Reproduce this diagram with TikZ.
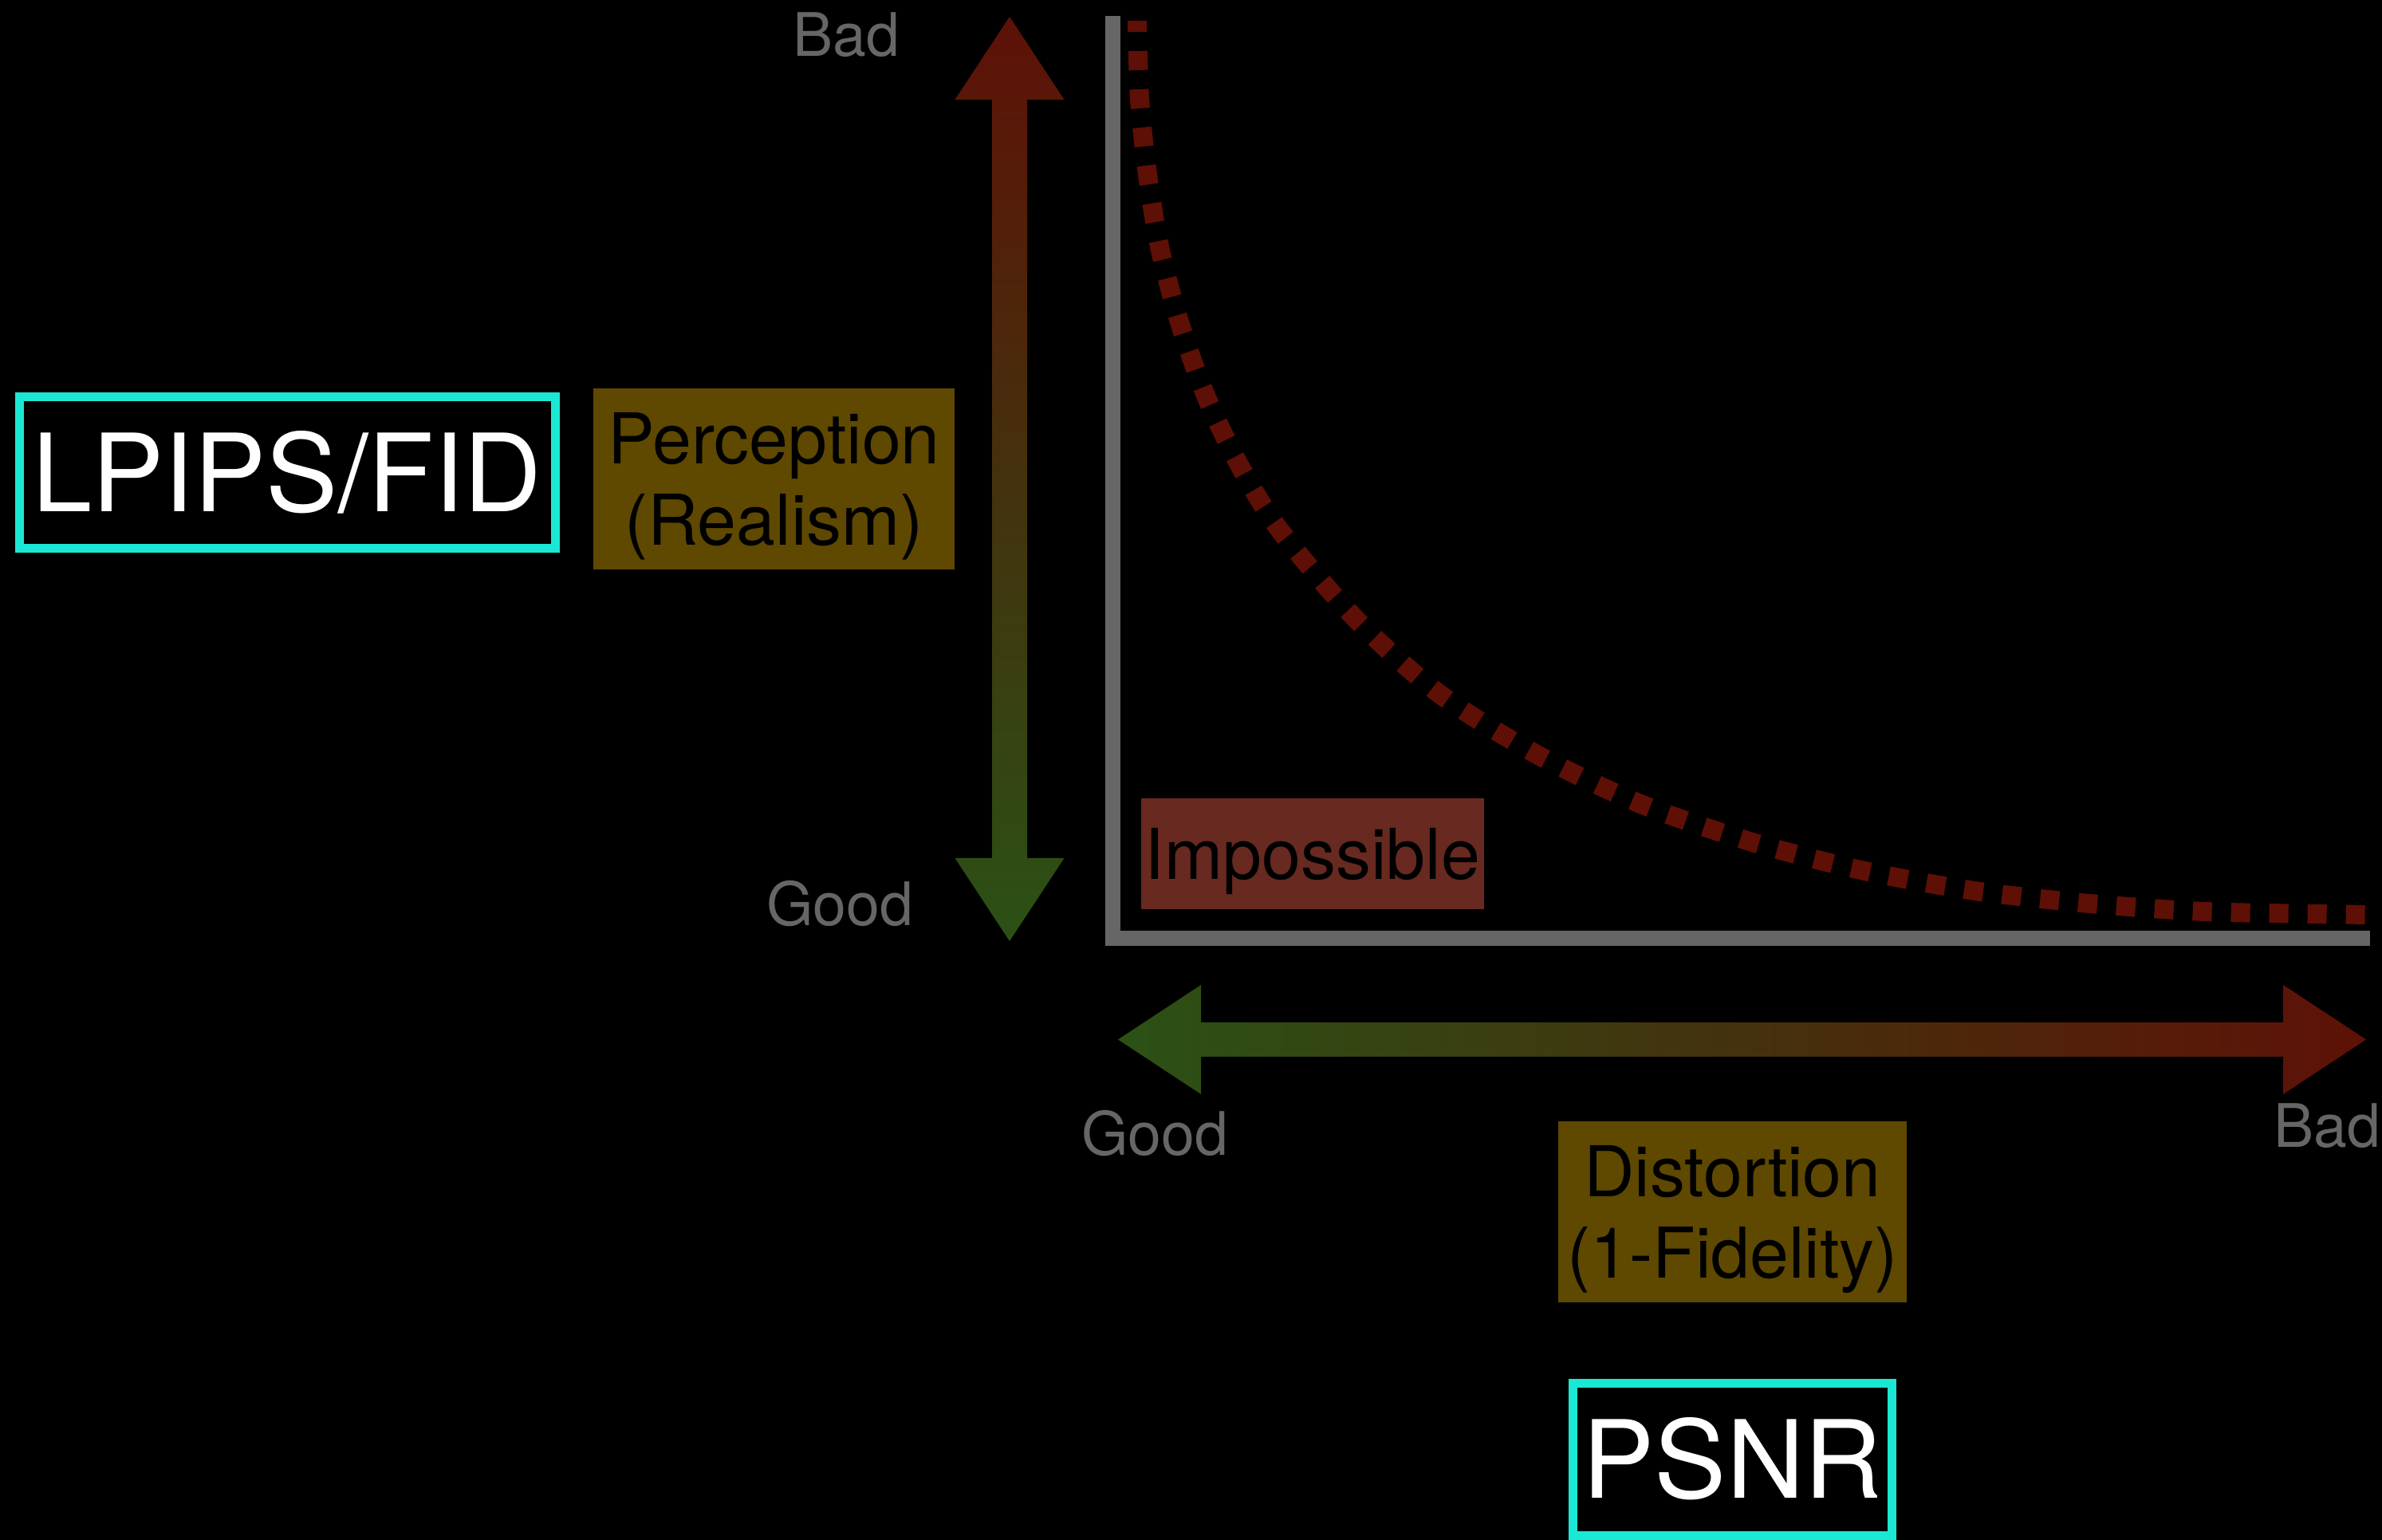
\documentclass[tikz,border=0pt]{standalone}
\usepackage{fontspec}
\setmainfont{TeX Gyre Heros}
\usetikzlibrary{calc}
\definecolor{AxGray}{HTML}{666666}
\definecolor{BadRed}{HTML}{5E1107}
\definecolor{GoodGreen}{HTML}{2B5115}
\definecolor{CurveRed}{HTML}{5E0F06}
\definecolor{TagGold}{HTML}{5F4800}
\definecolor{TagRust}{HTML}{672920}
\definecolor{MetricCyan}{HTML}{1AE8D4}

\begin{document}
\begin{tikzpicture}[
  lbl/.style={text=AxGray,font=\fontsize{21.4}{25}\selectfont,anchor=base,inner sep=0pt},
  tagbox/.style={fill=#1,text=black,font=\fontsize{25}{29}\selectfont,align=center,inner sep=0pt,
    text height=18pt,text depth=0pt},
  metricbox/.style={draw=MetricCyan,line width=.11cm,fill=black,text=white,font=\fontsize{38.5}{42}\selectfont,
    inner sep=0pt,text height=27.7pt,text depth=0pt}
]
  \useasboundingbox (0,0) rectangle (29.87,19.31);
  \fill[black] (0,0) rectangle (29.87,19.31);

  % axes
  \coordinate (ytop) at (13.955,19.11);
  \coordinate (origin) at (13.955,7.545);
  \coordinate (xend) at (29.72,7.545);
  \draw[AxGray,line width=.19cm] (ytop) -- (origin) -- (xend);

  % perception arrow, bad on top
  \coordinate (vtop) at (12.66,19.10);
  \coordinate (vbot) at (12.66,7.51);
  \fill[top color=BadRed,bottom color=GoodGreen] (vtop) -- ++(.685,-1.04) -- ++(-.465,0)
    -- ($(vbot)+(.22,1.04)$) -- ++(.465,0) -- (vbot) -- ++(-.685,1.04) -- ++(.465,0)
    -- ($(vtop)+(-.22,-1.04)$) -- ++(-.465,0) -- cycle;

  % distortion arrow, bad on the right
  \coordinate (hleft) at (14.02,6.275);
  \coordinate (hright) at (29.67,6.275);
  \fill[left color=GoodGreen,right color=BadRed] (hleft) -- ++(1.04,.685) -- ++(0,-.47)
    -- ($(hright)+(-1.04,.215)$) -- ++(0,.47) -- (hright) -- ++(-1.04,-.685) -- ++(0,.47)
    -- ($(hleft)+(1.04,-.215)$) -- ++(0,-.47) -- cycle;

  % frontier
  \draw[CurveRed,line width=.24cm,dash pattern=on .24cm off .24cm,dash phase=.1cm]
    plot[smooth,tension=.5] coordinates {(14.26,19.05) (14.29,18.07) (14.39,17.12)
    (14.55,16.17) (14.80,15.24) (15.12,14.35) (15.54,13.48) (16.05,12.66) (17.00,11.55)
    (18.05,10.61) (19.27,9.85) (20.57,9.23) (21.94,8.76) (23.33,8.40) (24.76,8.14)
    (26.20,7.98) (27.64,7.88) (29.07,7.85) (29.68,7.84)};

  \node[lbl] (badY) at (10.61,18.60) {Bad};
  \node[lbl] (goodY) at (10.53,7.70) {Good};
  \node[lbl] (goodX) at (14.48,4.82) {Good};
  \node[lbl] (badX) at (29.18,4.92) {Bad};

  \node[tagbox=TagGold,text height=47pt,minimum width=4.53cm,minimum height=2.27cm] (percep) at (9.705,13.305) {Perception\\(Realism)};
  \node[tagbox=TagRust,minimum width=4.30cm,minimum height=1.39cm] (impossible) at (16.46,8.605) {Impossible};
  \node[tagbox=TagGold,text height=47pt,minimum width=4.37cm,minimum height=2.27cm] (distort) at (21.725,4.115) {Distortion\\(1-Fidelity)};

  \node[metricbox,minimum width=6.72cm,minimum height=1.90cm] (lpips) at (3.60,13.385) {LPIPS/FID};
  \node[metricbox,minimum width=4.00cm,minimum height=1.91cm] (psnr) at (21.725,1.01) {PSNR};
\end{tikzpicture}
\end{document}
